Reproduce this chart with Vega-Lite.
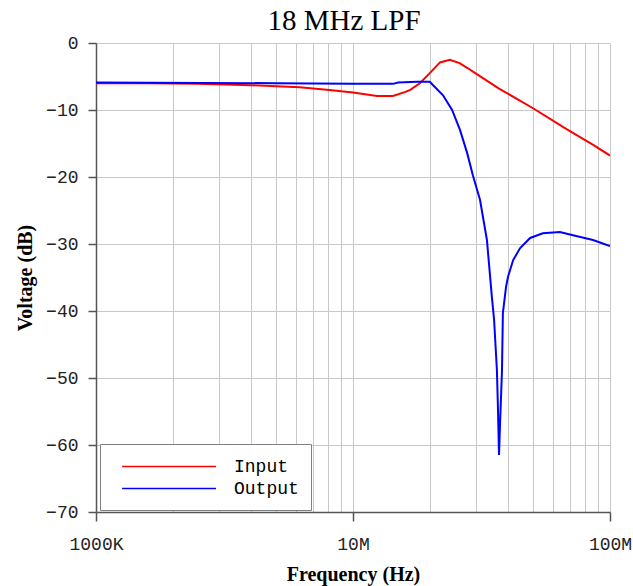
{
  "$schema": "https://vega.github.io/schema/vega-lite/v6.json",
  "width": 514,
  "height": 469,
  "autosize": {"type": "none"},
  "padding": {"left": 96, "top": 43, "right": 23, "bottom": 74},
  "background": "white",
  "config": {"view": {"stroke": null}},
  "title": {"text": "18 MHz LPF", "font": "Liberation Serif", "fontSize": 29, "fontWeight": "normal", "color": "black", "offset": -2, "anchor": "middle", "dx": -9},
  "data": {"values": [
    {"f": 1000000, "v": -6.0, "series": "Input"},
    {"f": 1600000, "v": -6.0, "series": "Input"},
    {"f": 2500000, "v": -6.1, "series": "Input"},
    {"f": 4000000, "v": -6.3, "series": "Input"},
    {"f": 6200000, "v": -6.6, "series": "Input"},
    {"f": 8100000, "v": -7.0, "series": "Input"},
    {"f": 10000000, "v": -7.4, "series": "Input"},
    {"f": 12400000, "v": -7.9, "series": "Input"},
    {"f": 14300000, "v": -7.9, "series": "Input"},
    {"f": 16000000, "v": -7.3, "series": "Input"},
    {"f": 16700000, "v": -7.0, "series": "Input"},
    {"f": 18200000, "v": -6.0, "series": "Input"},
    {"f": 19900000, "v": -4.5, "series": "Input"},
    {"f": 21800000, "v": -2.9, "series": "Input"},
    {"f": 23800000, "v": -2.5, "series": "Input"},
    {"f": 26000000, "v": -3.0, "series": "Input"},
    {"f": 27800000, "v": -3.7, "series": "Input"},
    {"f": 29900000, "v": -4.5, "series": "Input"},
    {"f": 37000000, "v": -6.8, "series": "Input"},
    {"f": 50000000, "v": -9.7, "series": "Input"},
    {"f": 68000000, "v": -12.9, "series": "Input"},
    {"f": 86000000, "v": -15.2, "series": "Input"},
    {"f": 100000000, "v": -16.8, "series": "Input"},
    {"f": 1000000, "v": -5.9, "series": "Output"},
    {"f": 5000000, "v": -6.0, "series": "Output"},
    {"f": 10000000, "v": -6.1, "series": "Output"},
    {"f": 14300000, "v": -6.1, "series": "Output"},
    {"f": 15000000, "v": -5.9, "series": "Output"},
    {"f": 17700000, "v": -5.8, "series": "Output"},
    {"f": 19900000, "v": -5.8, "series": "Output"},
    {"f": 20500000, "v": -6.3, "series": "Output"},
    {"f": 22400000, "v": -7.8, "series": "Output"},
    {"f": 24300000, "v": -10.0, "series": "Output"},
    {"f": 26100000, "v": -13.0, "series": "Output"},
    {"f": 27800000, "v": -16.4, "series": "Output"},
    {"f": 29300000, "v": -19.8, "series": "Output"},
    {"f": 31200000, "v": -23.4, "series": "Output"},
    {"f": 33200000, "v": -29.4, "series": "Output"},
    {"f": 34700000, "v": -37.9, "series": "Output"},
    {"f": 35400000, "v": -41.3, "series": "Output"},
    {"f": 36300000, "v": -48.8, "series": "Output"},
    {"f": 36600000, "v": -53.7, "series": "Output"},
    {"f": 37000000, "v": -61.5, "series": "Output"},
    {"f": 37300000, "v": -57.3, "series": "Output"},
    {"f": 38000000, "v": -48.8, "series": "Output"},
    {"f": 38300000, "v": -40.3, "series": "Output"},
    {"f": 39400000, "v": -36.4, "series": "Output"},
    {"f": 40100000, "v": -34.9, "series": "Output"},
    {"f": 42000000, "v": -32.4, "series": "Output"},
    {"f": 44700000, "v": -30.6, "series": "Output"},
    {"f": 48900000, "v": -29.1, "series": "Output"},
    {"f": 54800000, "v": -28.4, "series": "Output"},
    {"f": 63800000, "v": -28.2, "series": "Output"},
    {"f": 71800000, "v": -28.7, "series": "Output"},
    {"f": 85900000, "v": -29.4, "series": "Output"},
    {"f": 100000000, "v": -30.3, "series": "Output"}
  ]},
  "mark": {"type": "line", "strokeWidth": 2, "clip": true},
  "encoding": {
    "x": {
      "field": "f", "type": "quantitative",
      "scale": {"type": "log", "domain": [1000000, 100000000], "nice": false},
      "axis": {
        "title": "Frequency (Hz)",
        "titleFont": "Liberation Serif", "titleFontSize": 20, "titleFontWeight": "bold", "titleColor": "black", "titlePadding": 11,
        "values": [1000000, 2000000, 3000000, 4000000, 5000000, 6000000, 7000000, 8000000, 9000000, 10000000, 20000000, 30000000, 40000000, 50000000, 60000000, 70000000, 80000000, 90000000, 100000000],
        "labelExpr": "datum.value == 1000000 ? '1000K' : datum.value == 10000000 ? '10M' : datum.value == 100000000 ? '100M' : ''",
        "labelFont": "Liberation Mono", "labelFontSize": 18, "labelColor": "#222222", "labelPadding": 14, "labelOverlap": false, "labelFlush": false,
        "tickSize": 9, "tickColor": "#555555", "tickWidth": 1.5,
        "tickOpacity": {"condition": {"test": "datum.value == 1000000 || datum.value == 10000000 || datum.value == 100000000", "value": 1}, "value": 0},
        "domainColor": "#555555", "domainWidth": 1.5,
        "grid": true, "gridColor": "#c8c8c8", "gridWidth": 1
      }
    },
    "y": {
      "field": "v", "type": "quantitative",
      "scale": {"domain": [-70, 0], "nice": false},
      "axis": {
        "title": "Voltage (dB)",
        "titleFont": "Liberation Serif", "titleFontSize": 20, "titleFontWeight": "bold", "titleColor": "black", "titlePadding": 10,
        "values": [0, -10, -20, -30, -40, -50, -60, -70],
        "labelFont": "Liberation Mono", "labelFontSize": 18, "labelColor": "#222222", "labelPadding": 10,
        "tickSize": 8, "tickColor": "#555555", "tickWidth": 1.5,
        "domainColor": "#555555", "domainWidth": 1.5,
        "grid": true, "gridColor": "#c8c8c8", "gridWidth": 1
      }
    },
    "color": {
      "field": "series", "type": "nominal",
      "scale": {"domain": ["Input", "Output"], "range": ["#ff0000", "#0000ff"]},
      "legend": {
        "title": null,
        "orient": "none", "legendX": 4, "legendY": 401,
        "fillColor": "white", "strokeColor": "#808080",
        "padding": 12,
        "symbolType": "M-1,0H9", "symbolSize": 353, "symbolStrokeWidth": 1.5, "symbolOffset": 9,
        "labelFont": "Liberation Mono", "labelFontSize": 18, "labelColor": "black", "labelOffset": 92,
        "rowPadding": 2
      }
    }
  }
}
